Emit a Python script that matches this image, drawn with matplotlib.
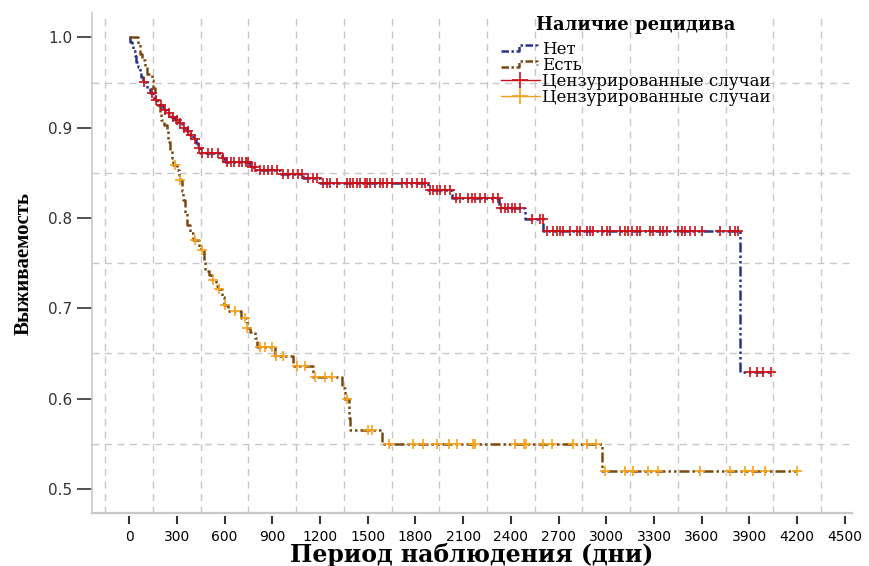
import numpy as np
import matplotlib
matplotlib.use("Agg")
import matplotlib.pyplot as plt
from matplotlib.lines import Line2D
from matplotlib.legend_handler import HandlerBase

# ---------------- data ----------------
# group "Нет" (no recurrence): step times and survival after each step
t_no = [0, 8, 16, 25, 35, 45, 55, 66, 77, 88, 110, 130, 155, 182, 210, 235, 260,
        285, 310, 335, 361, 380, 400, 420, 434, 445, 581, 602, 760, 800, 950,
        1095, 1199, 1881, 2028, 2327, 2489, 2604, 3841, 4034]
s_no = [1.0, 0.995, 0.99, 0.985, 0.979, 0.973, 0.967, 0.961, 0.956, 0.951, 0.944,
        0.938, 0.931, 0.925, 0.920, 0.916, 0.912, 0.909, 0.905, 0.900, 0.896,
        0.892, 0.887, 0.883, 0.878, 0.872, 0.866, 0.862, 0.857, 0.853, 0.849,
        0.844, 0.8384, 0.831, 0.822, 0.811, 0.799, 0.786, 0.629, 0.629]
cens_no = [95, 141, 170, 200, 225, 250, 275, 298, 320, 345, 371, 390, 413, 440,
           455, 497, 518, 560, 590, 615, 640, 660, 690, 710, 735, 750, 770, 790,
           820, 850, 870, 900, 927, 969, 1000, 1031, 1063, 1084, 1126, 1157, 1179,
           1220, 1242, 1262, 1304, 1367, 1388, 1409, 1430, 1451, 1482, 1497, 1514,
           1545, 1577, 1598, 1619, 1650, 1713, 1745, 1776, 1808, 1839, 1860, 1891,
           1912, 1933, 1954, 1986, 2017, 2055, 2080, 2132, 2153, 2174, 2206, 2237,
           2289, 2321, 2336, 2363, 2384, 2405, 2426, 2457, 2531, 2583, 2600, 2625,
           2667, 2688, 2709, 2730, 2772, 2814, 2835, 2877, 2898, 2919, 2972, 3003,
           3024, 3087, 3118, 3139, 3160, 3191, 3212, 3275, 3296, 3338, 3359, 3380,
           3453, 3474, 3495, 3526, 3558, 3600, 3715, 3778, 3810, 3830, 3903, 3950,
           3986, 4034]

# group "Есть" (recurrence)
t_yes = [0, 57, 65, 80, 100, 109, 141, 150, 162, 175, 193, 203, 220, 235, 245,
         256, 267, 275, 298, 310, 319, 330, 340, 350, 361, 382, 400, 440, 450,
         470, 476, 500, 520, 545, 560, 581, 595, 620, 700, 738, 760, 790, 801,
         916, 1032, 1157, 1336, 1355, 1380, 1390, 1591, 2975, 4200]
s_yes = [1.0, 0.993, 0.982, 0.975, 0.967, 0.960, 0.953, 0.944, 0.934, 0.925,
         0.916, 0.908, 0.903, 0.897, 0.884, 0.875, 0.866, 0.859, 0.853, 0.847,
         0.842, 0.830, 0.820, 0.805, 0.792, 0.783, 0.776, 0.768, 0.765, 0.752,
         0.741, 0.737, 0.731, 0.725, 0.721, 0.713, 0.704, 0.697, 0.689, 0.678,
         0.674, 0.667, 0.6575, 0.647, 0.636, 0.6243, 0.6115, 0.600, 0.578, 0.565,
         0.5498, 0.520, 0.520]
cens_yes = [287, 322, 413, 455, 528, 565, 602, 665, 728, 740, 822, 853, 896, 923,
            969, 1053, 1105, 1168, 1231, 1273, 1367, 1503, 1524, 1635, 1786, 1849,
            1933, 2013, 2063, 2164, 2174, 2425, 2482, 2494, 2604, 2656, 2792, 2876,
            2935, 2992, 3118, 3170, 3264, 3327, 3589, 3778, 3872, 3925, 3998, 4197]

group_labels = ["Нет", "Есть"]
censor_label = "Цензурированные случаи"
legend_title = "Наличие рецидива"
x_ticks = list(range(0, 4501, 300))
y_ticks = [0.5, 0.6, 0.7, 0.8, 0.9, 1.0]
x_label = "Период наблюдения (дни)"
y_label = "Выживаемость"

# ---------------- style ----------------
col_no, col_no_c = "#28348c", "#cc1018"
col_yes, col_yes_c = "#7a4a12", "#f7a21c"
dash = (0, (4, 1.2, 1, 1.2, 1, 1.2))


def surv_at(times, surv, c):
    idx = np.searchsorted(np.asarray(times), np.asarray(c), side="right") - 1
    return np.asarray(surv)[idx]


fig = plt.figure(figsize=(8.69, 5.66), dpi=100)
ax = fig.add_axes([0.1055, 0.0931, 0.8745, 0.8839])

ax.step(t_no, s_no, where="post", color=col_no, lw=1.8, linestyle=dash, zorder=3)
ax.step(t_yes, s_yes, where="post", color=col_yes, lw=1.8, linestyle=dash, zorder=3)
ax.plot(cens_no, surv_at(t_no, s_no, cens_no), linestyle="none", marker="+",
        ms=7.5, mew=1.2, color=col_no_c, zorder=4)
ax.plot(cens_yes, surv_at(t_yes, s_yes, cens_yes), linestyle="none", marker="+",
        ms=7.5, mew=1.2, color=col_yes_c, zorder=4)

ax.set_xlim(-236, 4543)
ax.set_ylim(0.473, 1.027)
ax.set_xticks(x_ticks)
ax.set_xticklabels([str(v) for v in x_ticks], fontsize=11, color="#333333",
                   family="DejaVu Sans")
ax.set_yticks(y_ticks)
ax.set_yticklabels([f"{v:.1f}" for v in y_ticks], fontsize=11, color="#333333",
                   family="DejaVu Sans")
ax.set_xticks(np.arange(-150, 4500, 300), minor=True)
ax.set_yticks(np.arange(0.55, 1.0, 0.1), minor=True)
ax.grid(which="minor", color="#c8c8c8", linestyle=(0, (5, 4)), lw=1.0)
ax.grid(which="major", visible=False)
ax.tick_params(which="minor", length=0)
ax.tick_params(axis="x", which="major", direction="out", length=6, width=1.5,
               color="#333333", pad=4)
ax.tick_params(axis="y", which="major", direction="out", length=11, width=1.2,
               color="#333333", pad=3)
for s in ["top", "right"]:
    ax.spines[s].set_visible(False)
ax.spines["left"].set_color("#c8c8c8")
ax.spines["left"].set_linewidth(1.2)
ax.spines["bottom"].set_position(("outward", 2))
ax.spines["bottom"].set_visible(False)
ax.axhline(0.473, color="#c8c8c8", lw=1.6, zorder=1, clip_on=False)

ax.set_xlabel(x_label, fontsize=17, fontweight="bold", family="DejaVu Serif",
              labelpad=-1)
ax.set_ylabel(y_label, fontsize=15, fontweight="bold", family="Liberation Serif",
              labelpad=10)


class StepHandler(HandlerBase):
    def create_artists(self, legend, orig_handle, xdescent, ydescent, width,
                       height, fontsize, trans):
        w, h = width, height
        x0, y0 = -xdescent, -ydescent
        xs = [x0, x0 + 0.45 * w, x0 + 0.45 * w, x0 + 0.92 * w, x0 + 0.92 * w]
        ys = [y0 + 0.25 * h, y0 + 0.25 * h, y0 + 0.75 * h, y0 + 0.75 * h,
              y0 + 0.45 * h]
        ln = Line2D(xs, ys, color=orig_handle.get_color(), lw=1.8,
                    linestyle=(0, (3, 1, 1, 1)), transform=trans)
        return [ln]


h_no = Line2D([], [], color=col_no)
h_yes = Line2D([], [], color=col_yes)
h_c1 = Line2D([], [], color=col_no_c, lw=1.0, marker="+", ms=11, mew=1.2)
h_c2 = Line2D([], [], color=col_yes_c, lw=1.0, marker="+", ms=11, mew=1.2)
leg = ax.legend([h_no, h_yes, h_c1, h_c2],
                [group_labels[0], group_labels[1], censor_label, censor_label],
                handler_map={h_no: StepHandler(), h_yes: StepHandler()},
                title=legend_title, frameon=False, loc="upper left",
                bbox_to_anchor=(0.573, 0.978), bbox_transform=fig.transFigure,
                prop={"family": "DejaVu Serif", "size": 12},
                handlelength=2.3, handletextpad=0.15, labelspacing=-0.05,
                borderpad=0.2, borderaxespad=0)
leg.get_title().set_fontweight("bold")
leg.get_title().set_family("DejaVu Serif")
leg.get_title().set_fontsize(13)
leg._legend_box.sep = 5

fig.savefig("out.png", dpi=100)
